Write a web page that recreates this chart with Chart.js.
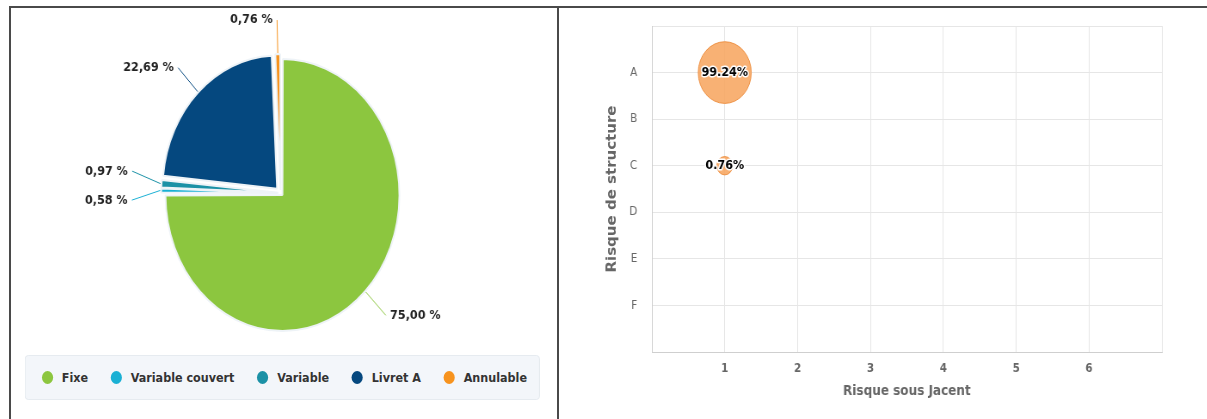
<!DOCTYPE html>
<html>
<head>
<meta charset="utf-8">
<script src="https://cdn.jsdelivr.net/npm/chart.js@4/dist/chart.umd.min.js"></script>
<style>
  html, body { margin: 0; background: #fff; }
  #page { position: relative; width: 1207px; height: 419px; overflow: hidden; font-family: 'DejaVu Sans', sans-serif; }
  .rule { position: absolute; background: #4a4a4a; }
  #ruleTop { left: 9px; top: 6px; width: 1198px; height: 2px; }
  #ruleLeft { left: 9px; top: 6px; width: 2px; height: 413px; }
  #ruleMid { left: 557px; top: 6px; width: 2px; height: 413px; }
  .panel { position: absolute; top: 8px; height: 411px; overflow: hidden; }
  #leftPanel { left: 11px; width: 546px; }
  #rightPanel { left: 559px; width: 648px; }
  /* both charts are drawn slightly narrowed horizontally */
  .squeeze { position: absolute; left: 0; top: 0; height: 411px; transform: scaleX(0.86); transform-origin: 0 0; }
  #leftPanel .squeeze { width: 635px; }
  #rightPanel .squeeze { width: 753px; }
  canvas { display: block; }
  #pieLegend {
    position: absolute; left: 16px; top: 347px; width: 599px; height: 45px;
    box-sizing: border-box; background: #f3f6fa; border: 1px solid #e4e9ef; border-radius: 4px;
    display: flex; align-items: center; justify-content: space-between; padding: 0 14px 0 19px;
  }
  .legend-item { display: flex; align-items: center; font-size: 13px; font-weight: bold; color: #333; white-space: nowrap; }
  .legend-dot { width: 13px; height: 13px; border-radius: 50%; margin-right: 10px; }
</style>
</head>
<body>
<div id="page">
  <div class="rule" id="ruleTop"></div>
  <div class="rule" id="ruleLeft"></div>
  <div class="rule" id="ruleMid"></div>
  <div class="panel" id="leftPanel">
    <div class="squeeze">
      <canvas id="pieChart" width="635" height="370"></canvas>
      <div id="pieLegend"></div>
    </div>
  </div>
  <div class="panel" id="rightPanel">
    <div class="squeeze">
      <canvas id="bubbleChart" width="753" height="411"></canvas>
    </div>
  </div>
</div>
<script>
Chart.defaults.font.family = '"DejaVu Sans", sans-serif';

// Répartition par type de taux
const sliceLabels = ['Fixe', 'Variable couvert', 'Variable', 'Livret A', 'Annulable'];
const sliceShares = [75.00, 0.58, 0.97, 22.69, 0.76];
const sliceColors = ['#8cc63f', '#1ab0d4', '#1b91a6', '#05487f', '#f7931e'];

// Matrice des risques (Gissler)
const structureLevels = ['A', 'B', 'C', 'D', 'E', 'F'];
const underlyingLevels = [1, 2, 3, 4, 5, 6];
const riskX = [1, 1];
const riskY = ['A', 'C'];
const riskShares = [99.24, 0.76];

// labels outside the pie with a small connector line
const pieLabels = {
    id: 'pieLabels',
    afterDatasetsDraw(chart) {
        const ctx = chart.ctx;
        const arcs = chart.getDatasetMeta(0).data;
        const items = arcs.map((arc, i) => {
            const p = arc.getProps(['x', 'y', 'startAngle', 'endAngle', 'outerRadius'], true);
            const mid = (p.startAngle + p.endAngle) / 2;
            const cos = Math.cos(mid);
            const sin = Math.sin(mid);
            return { i, p, cos, sin, left: cos < 0, ty: p.y + sin * (p.outerRadius + 40) };
        });

        // push close labels apart on each side
        [true, false].forEach(side => {
            const group = items.filter(it => it.left === side).sort((a, b) => a.ty - b.ty);
            for (let k = 1; k < group.length; k++) {
                const gap = group[k].ty - group[k - 1].ty;
                if (gap < 29) {
                    const d = (29 - gap) / 2;
                    group[k - 1].ty -= d;
                    group[k].ty += d;
                }
            }
        });

        ctx.save();
        ctx.font = 'bold 13px "DejaVu Sans"';
        ctx.textBaseline = 'middle';
        ctx.lineWidth = 1;
        items.forEach(it => {
            const { p, cos, sin } = it;
            const r0 = p.outerRadius + 7;
            const r1 = p.outerRadius + 40;
            const x0 = p.x + cos * r0, y0 = p.y + sin * r0;
            const x1 = p.x + cos * r1, y1 = it.ty;
            ctx.strokeStyle = sliceColors[it.i];
            ctx.beginPath();
            ctx.moveTo(x0, y0);
            ctx.lineTo(x1, y1);
            ctx.stroke();
            ctx.fillStyle = '#222';
            ctx.textAlign = it.left ? 'right' : 'left';
            const txt = sliceShares[it.i].toFixed(2).replace('.', ',') + ' %';
            ctx.fillText(txt, x1 + (it.left ? -5 : 5), y1);
        });
        ctx.restore();
    }
};

new Chart(document.getElementById('pieChart'), {
    type: 'pie',
    data: {
        labels: sliceLabels,
        datasets: [{
            data: sliceShares,
            backgroundColor: sliceColors,
            borderColor: '#eef3f7',
            borderWidth: 2,
            radius: 133,
            offset: [12, 12, 12, 24, 12]
        }]
    },
    options: {
        responsive: false,
        animation: false,
        radius: 133,
        layout: { padding: { right: 8 } },
        plugins: {
            legend: { display: false },
            tooltip: { enabled: false }
        }
    },
    plugins: [pieLabels]
});

// html legend under the pie
const legendBox = document.getElementById('pieLegend');
sliceLabels.forEach((label, i) => {
    const item = document.createElement('div');
    item.className = 'legend-item';
    item.innerHTML = `<span class="legend-dot" style="background:${sliceColors[i]}"></span>${label}`;
    legendBox.appendChild(item);
});

// percentage written on each bubble
const bubbleLabels = {
    id: 'bubbleLabels',
    afterDatasetsDraw(chart) {
        const ctx = chart.ctx;
        chart.getDatasetMeta(0).data.forEach((pt, i) => {
            const txt = riskShares[i].toFixed(2) + '%';
            ctx.save();
            ctx.font = 'bold 13px "DejaVu Sans"';
            ctx.textAlign = 'center';
            ctx.textBaseline = 'middle';
            ctx.lineJoin = 'round';
            ctx.strokeStyle = '#fff';
            ctx.lineWidth = 3;
            ctx.strokeText(txt, pt.x, pt.y);
            ctx.fillStyle = '#000';
            ctx.fillText(txt, pt.x, pt.y);
            ctx.restore();
        });
    }
};

new Chart(document.getElementById('bubbleChart'), {
    type: 'bubble',
    data: {
        datasets: [{
            data: riskX.map((x, i) => ({
                x: x,
                y: structureLevels.length - structureLevels.indexOf(riskY[i]),
                r: 9 + riskShares[i] * 0.22
            })),
            backgroundColor: 'rgba(247, 163, 92, 0.85)',
            borderColor: 'rgba(236, 140, 60, 0.9)',
            borderWidth: 1
        }]
    },
    options: {
        responsive: false,
        animation: false,
        layout: { autoPadding: false, padding: { top: 18, right: 52, left: 0, bottom: 0 } },
        plugins: {
            legend: { display: false },
            tooltip: { enabled: false }
        },
        scales: {
            x: {
                type: 'linear',
                min: 0,
                max: 7,
                afterFit: scale => { scale.height = 67; },
                grid: { color: '#e6e6e6', drawTicks: false },
                border: { color: '#cfcfcf' },
                ticks: {
                    stepSize: 1,
                    padding: 10,
                    color: '#666',
                    font: { size: 12, weight: 'bold' },
                    callback: v => underlyingLevels.includes(v) ? v : ''
                },
                title: {
                    display: true,
                    text: 'Risque sous Jacent',
                    color: '#666',
                    font: { size: 14, weight: 'bold' },
                    padding: { top: 0, bottom: 19 }
                }
            },
            y: {
                type: 'linear',
                min: 0,
                max: 7,
                afterFit: scale => {
                    scale.width = 108;
                    scale.paddingTop = 0;
                    scale.paddingBottom = 0;
                },
                grid: { color: '#e6e6e6', drawTicks: false },
                border: { color: '#cfcfcf' },
                ticks: {
                    stepSize: 1,
                    padding: 17,
                    color: '#666',
                    font: { size: 12 },
                    callback: v => structureLevels[structureLevels.length - v] || ''
                },
                title: {
                    display: true,
                    text: 'Risque de structure',
                    color: '#666',
                    font: { size: 15, weight: 'bold' },
                    padding: { top: 53, bottom: 0 }
                }
            }
        }
    },
    plugins: [bubbleLabels]
});
</script>
</body>
</html>
